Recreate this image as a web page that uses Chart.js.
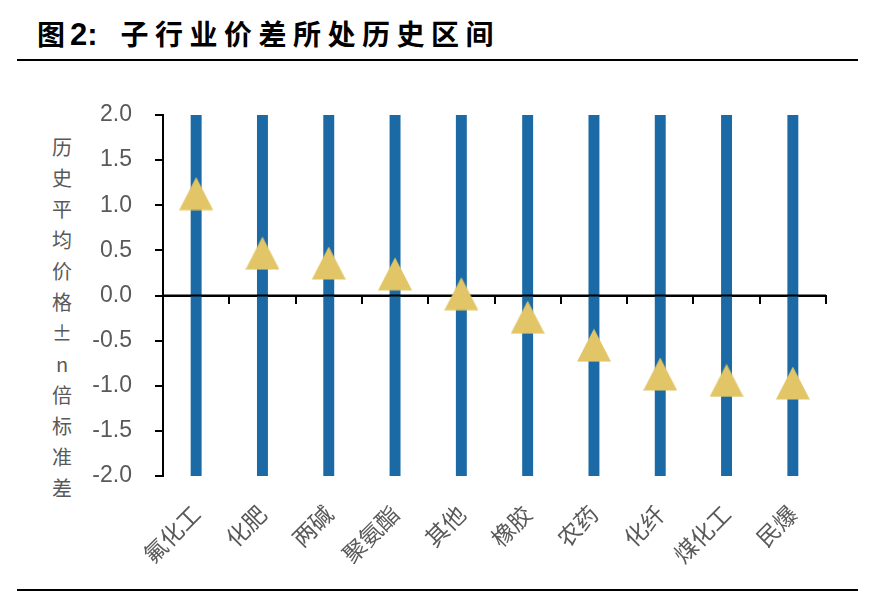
<!DOCTYPE html>
<html>
<head>
<meta charset="utf-8">
<script src="https://cdn.jsdelivr.net/npm/chart.js@4.4.0/dist/chart.umd.min.js"></script>
<style>
  body { margin: 0; width: 869px; height: 592px; background: #fff; position: relative; overflow: hidden; }
  #title { position: absolute; left: 37px; top: 13px; font: bold 28px "Noto Sans CJK SC", "Liberation Sans"; color: #000; white-space: nowrap; }
  #title .num { font: bold 31px "Liberation Sans"; margin-left: 5px; }
  #title .rest { letter-spacing: 6.5px; margin-left: 23px; }
  #topRule { position: absolute; left: 17px; top: 59px; width: 841px; height: 2px; background: #000; }
  #bottomRule { position: absolute; left: 17px; top: 589px; width: 841px; height: 2px; background: #000; }
  #yTitle { position: absolute; left: 47px; top: 131px; width: 30px; display: flex; flex-direction: column; align-items: center; font: 20px "Noto Sans CJK SC", "Liberation Sans"; color: #595959; }
  #yTitle span { display: block; height: 31px; line-height: 31px; }
  #wrap { position: absolute; left: 0; top: 62px; width: 869px; height: 526px; }
</style>
</head>
<body>
<div id="title">图<span class="num">2:</span><span class="rest">子行业价差所处历史区间</span></div>
<div id="topRule"></div>
<div id="yTitle"></div>
<div id="wrap"><canvas id="chart"></canvas></div>
<div id="bottomRule"></div>
<script>
// Data
const categories = ['氟化工', '化肥', '两碱', '聚氨酯', '其他', '橡胶', '农药', '化纤', '煤化工', '民爆'];
const bandLow = [-2, -2, -2, -2, -2, -2, -2, -2, -2, -2];
const bandHigh = [2, 2, 2, 2, 2, 2, 2, 2, 2, 2];
const currentPos = [1.13, 0.47, 0.36, 0.24, 0.02, -0.24, -0.55, -0.87, -0.94, -0.97];
const yTicks = [-2.0, -1.5, -1.0, -0.5, 0.0, 0.5, 1.0, 1.5, 2.0];
const yTitleText = ['历', '史', '平', '均', '价', '格', '±', 'n', '倍', '标', '准', '差'];

const blue = '#1B6AA5';
const gold = '#E2C566';
const labelGray = '#595959';

// vertical y-axis title, one character per line
const yTitle = document.getElementById('yTitle');
yTitleText.forEach(ch => {
    const s = document.createElement('span');
    s.textContent = ch;
    yTitle.appendChild(s);
});

// triangle marker like the spreadsheet one (as tall as it is wide)
const tri = document.createElement('canvas');
tri.width = 34;
tri.height = 34;
const tctx = tri.getContext('2d');
tctx.fillStyle = gold;
tctx.beginPath();
tctx.moveTo(17, 0.5);
tctx.lineTo(34, 33.5);
tctx.lineTo(0, 33.5);
tctx.closePath();
tctx.fill();

// zero line drawn over the bars but under the triangles
const zeroLine = {
    id: 'zeroLine',
    afterDatasetDraw(chart, args) {
        if (args.index !== 0) return;
        const y = chart.scales.y.getPixelForValue(0);
        const a = chart.chartArea;
        const ctx = chart.ctx;
        ctx.save();
        ctx.strokeStyle = '#000';
        ctx.lineWidth = 2;
        ctx.beginPath();
        ctx.moveTo(a.left, y);
        ctx.lineTo(a.right, y);
        ctx.stroke();
        ctx.restore();
    }
};

new Chart(document.getElementById('chart'), {
    type: 'bar',
    data: {
        labels: categories,
        datasets: [{
            label: '历史区间',
            data: categories.map((c, i) => [bandLow[i], bandHigh[i]]),
            backgroundColor: blue,
            borderWidth: 0,
            barPercentage: 0.165,
            categoryPercentage: 1,
            order: 1
        }, {
            type: 'line',
            label: '当前位置',
            data: currentPos,
            showLine: false,
            pointStyle: tri,
            pointRadius: 17,
            order: 0
        }]
    },
    options: {
        responsive: true,
        maintainAspectRatio: false,
        animation: false,
        layout: { padding: { top: 53, right: 43, left: 0, bottom: 0 } },
        plugins: {
            legend: { display: false },
            tooltip: { enabled: false }
        },
        scales: {
            x: {
                position: 'bottom',
                offset: true,
                grid: { display: false },
                border: { display: false },
                ticks: {
                    autoSkip: false,
                    minRotation: 45,
                    maxRotation: 45,
                    padding: 16,
                    color: labelGray,
                    font: { family: '"Noto Sans CJK SC"', size: 23 }
                },
                afterFit(scale) { scale.height = 112; }
            },
            x2: {
                type: 'category',
                position: { y: 0 },
                offset: true,
                grid: {
                    offset: true,
                    drawOnChartArea: false,
                    tickLength: 7,
                    color: '#000',
                    lineWidth: 2
                },
                border: { color: '#000', width: 2 },
                ticks: { display: false }
            },
            y: {
                min: -2,
                max: 2,
                afterBuildTicks(scale) { scale.ticks = yTicks.map(v => ({ value: v })); },
                grid: {
                    drawOnChartArea: false,
                    tickLength: 8,
                    color: '#000',
                    lineWidth: 2
                },
                border: { color: '#000', width: 2 },
                ticks: {
                    padding: 23,
                    color: labelGray,
                    font: { family: '"Liberation Sans"', size: 23 },
                    callback: v => Number(v).toFixed(1)
                },
                afterFit(scale) { scale.width = 163; }
            }
        }
    },
    plugins: [zeroLine]
});
</script>
</body>
</html>
